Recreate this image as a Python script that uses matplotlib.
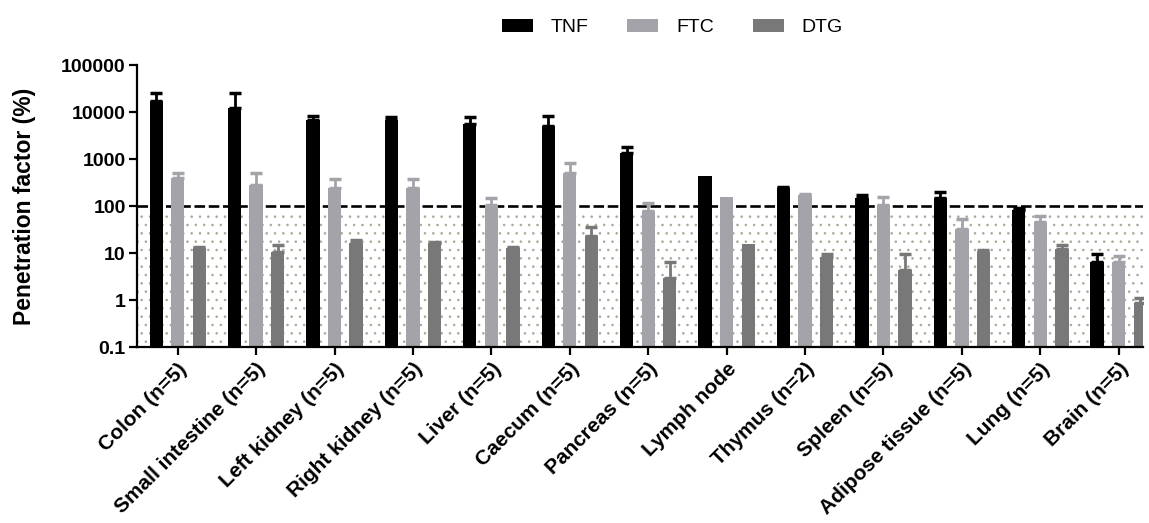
import matplotlib
matplotlib.use("Agg")
import matplotlib.pyplot as plt
import numpy as np
from matplotlib.patches import Patch

plt.rcParams['font.family'] = ['Liberation Sans', 'DejaVu Sans']
plt.rcParams['hatch.linewidth'] = 0.6

categories = ['Colon (n=5)', 'Small intestine (n=5)', 'Left kidney (n=5)', 'Right kidney (n=5)',
              'Liver (n=5)', 'Caecum (n=5)', 'Pancreas (n=5)', 'Lymph node', 'Thymus (n=2)',
              'Spleen (n=5)', 'Adipose tissue (n=5)', 'Lung (n=5)', 'Brain (n=5)']
series_names = ['TNF', 'FTC', 'DTG']
tnf = [17000, 12300, 6900, 6900, 5500, 5100, 1360, 435, 246, 146, 146, 82, 6.3]
tnf_err = [8000, 12700, 1200, 1000, 2200, 3000, 410, 0, 9, 24, 54, 7, 3.1]
ftc = [390, 280, 246, 246, 105, 500, 79, 153, 170, 105, 32, 44.6, 6.3]
ftc_err = [120, 230, 124, 124, 46, 330, 39, 0, 6, 48, 20, 17, 2.3]
dtg = [12.6, 10.3, 16.6, 16, 12.6, 22.5, 2.96, 15.5, 8.3, 4.4, 10.7, 12.3, 0.85]
dtg_err = [0.9, 4.4, 2.4, 1, 0.5, 13.5, 3.5, 0, 1.3, 5.2, 0.8, 2.4, 0.25]
threshold = 100
ytick_vals = [0.1, 1, 10, 100, 1000, 10000, 100000]
ytick_labels = ['0.1', '1', '10', '100', '1000', '10000', '100000']

colors = ['#000000', '#a3a3a9', '#787878']

fig = plt.figure(figsize=(11.49, 5.23), dpi=100)
ax = fig.add_axes([0.1192, 0.3365, 0.8756, 0.5392])
ax.set_yscale('log')
ax.set_ylim(0.1, 100000)
ax.set_xlim(-0.52, 12.31)

# dotted background below threshold
ax.axhspan(0.1, 75, facecolor='none', edgecolor='#a8a898', hatch='..', linewidth=0, zorder=0)
ax.axhline(threshold, color='black', lw=1.9, linestyle=(0, (4, 1.4)), zorder=1)

x = np.arange(len(categories))
offs = [-0.275, 0.0, 0.275]
w = 0.17
for vals, errs, off, c in zip([tnf, ftc, dtg], [tnf_err, ftc_err, dtg_err], offs, colors):
    ax.bar(x + off, vals, width=w, color=c, zorder=2)
    v = np.array(vals)
    e = np.array(errs)
    m = e > 0
    ax.errorbar(x[m] + off, v[m], yerr=[np.zeros(m.sum()), e[m]], fmt='none',
                ecolor=c, elinewidth=2, capsize=4, capthick=2.5, zorder=3)

ax.set_yticks(ytick_vals)
ax.set_yticklabels(ytick_labels, fontsize=14, fontweight='bold')
ax.minorticks_off()
ax.set_xticks(x)
ax.set_xticklabels(categories, rotation=45, ha='right', va='top', rotation_mode='anchor',
                   fontsize=15, fontweight='bold')
ax.tick_params(axis='both', width=1.6, length=6, direction='out')
ax.tick_params(axis='y', pad=2)
ax.tick_params(axis='x', pad=3)
for s in ['top', 'right']:
    ax.spines[s].set_visible(False)
for s in ['left', 'bottom']:
    ax.spines[s].set_linewidth(1.6)
ax.set_ylabel('Penetration factor (%)', fontsize=16.5, fontweight='bold', labelpad=18)

handles = [Patch(facecolor=c, edgecolor='none') for c in colors]
fig.legend(handles, series_names, loc='center', bbox_to_anchor=(0.585, 0.947), ncol=3,
           frameon=False, fontsize=14, handlelength=1.6, handleheight=0.65,
           handletextpad=0.9, columnspacing=2.0)

fig.savefig('out.png', dpi=100)
